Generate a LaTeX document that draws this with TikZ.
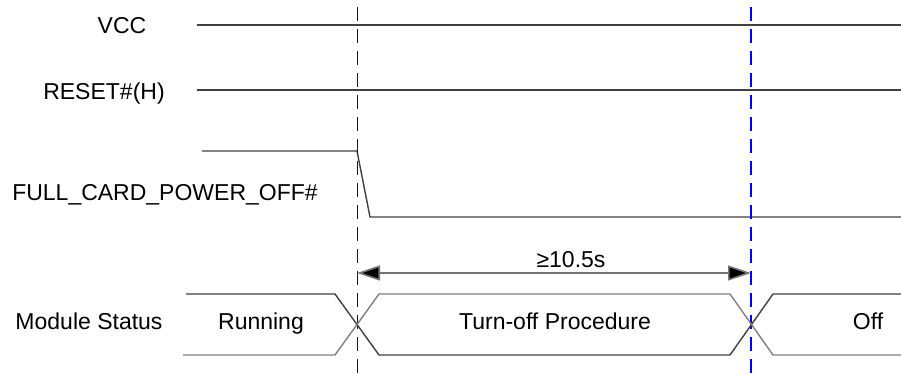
\documentclass[tikz,border=0pt]{standalone}
\usepackage{fontspec}
\setmainfont{Liberation Sans}
\usetikzlibrary{arrows.meta}
\begin{document}
\begin{tikzpicture}[x=1pt,y=-1pt,
  lbl/.style={font=\fontsize{23}{27}\selectfont, inner sep=0pt, anchor=base},
  sig/.style={draw=black!75, line width=1.4pt},
  sigl/.style={draw=black!50, line width=1.4pt},
  markerline/.style={draw=blue, line width=1.1pt, dash pattern=on 14pt off 8pt},
  dim/.style={draw=black!55, line width=1.6pt, {Triangle[length=23pt,width=15pt,fill=black]}-{Triangle[length=23pt,width=15pt,fill=black]}}
]
\useasboundingbox (0,0) rectangle (901,373);
% labels
\node[lbl] (vcc) at (122,33) {VCC};
\node[lbl] (rst) at (104,99) {RESET\#(H)};
\node[lbl] (fcpo) at (165,200) {FULL\_CARD\_POWER\_OFF\#};
\node[lbl] (ms) at (89,329) {Module Status};
% signals
\coordinate (v0) at (197,25); \coordinate (v1) at (901,25);
\draw[sig] (v0) -- (v1);
\coordinate (r0) at (197,90); \coordinate (r1) at (901,90);
\draw[sig] (r0) -- (r1);
\coordinate (f0) at (202,151); \coordinate (f1) at (357,151);
\coordinate (f2) at (370,217); \coordinate (f3) at (901,217);
\draw[sig] (f0) -- (f1) -- (f2) -- (f3);
% markers
\coordinate (m1t) at (357,7); \coordinate (m1b) at (357,373);
\coordinate (m2t) at (751,7); \coordinate (m2b) at (751,373);
\draw[markerline, draw=blue!80!black, line width=1pt] (m1t) -- (m1b);
\draw[markerline] (m2t) -- (m2b);
% dimension
\coordinate (d0) at (357,273); \coordinate (d1) at (751,273);
\draw[dim] (d0) -- (d1);
\node[lbl] (dt) at (571,267) {≥10.5s};
% module status bus
\coordinate (a0) at (186,294); \coordinate (a1) at (335,294);
\coordinate (b0) at (183,355); \coordinate (b1) at (335,355);
\coordinate (c0) at (379,294); \coordinate (c1) at (730,294);
\coordinate (e0) at (379,355); \coordinate (e1) at (730,355);
\coordinate (g0) at (773,294); \coordinate (g1) at (901,294);
\coordinate (h0) at (773,355); \coordinate (h1) at (901,355);
\draw[sig] (a0) -- (a1) -- (e0) -- (e1) -- (g0) -- (g1);
\draw[sigl] (b0) -- (b1) -- (c0) -- (c1) -- (h0) -- (h1);
\node[lbl] (run) at (261,329) {Running};
\node[lbl] (toff) at (555,329) {Turn-off Procedure};
\node[lbl] (off) at (868,329) {Off};
\end{tikzpicture}
\end{document}
